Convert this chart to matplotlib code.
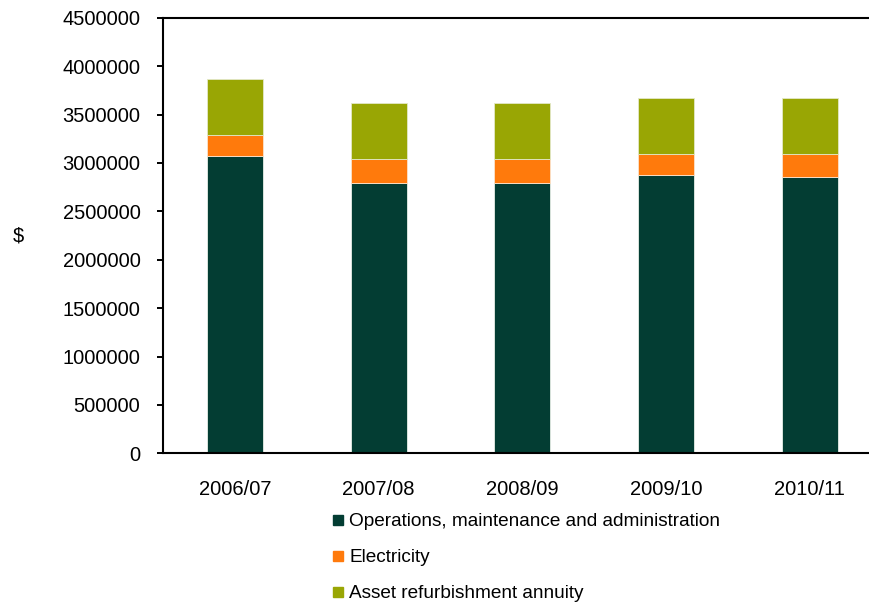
import matplotlib.pyplot as plt
import matplotlib
from matplotlib.lines import Line2D

matplotlib.rcParams['font.family'] = ['Liberation Sans', 'DejaVu Sans']

years = ['2006/07', '2007/08', '2008/09', '2009/10', '2010/11']
operations = [3068000, 2795000, 2795000, 2875000, 2854000]
electricity = [217000, 242000, 242000, 214000, 235000]
refurbishment = [582000, 579000, 579000, 585000, 585000]
series_names = ['Operations, maintenance and administration',
                'Electricity', 'Asset refurbishment annuity']
colors = ['#033D33', '#FF7A0C', '#99A604']

fig = plt.figure(figsize=(8.7, 6.02), dpi=100)
ax = fig.add_axes([0.1874, 0.2470, 0.8259, 0.7236])

x = list(range(len(years)))
bottom2 = [a + b for a, b in zip(operations, electricity)]
w = 0.39
ax.bar(x, operations, width=w, color=colors[0], edgecolor='#e8efe8', linewidth=0.6)
ax.bar(x, electricity, width=w, bottom=operations, color=colors[1],
       edgecolor='#fbe3cc', linewidth=0.6)
ax.bar(x, refurbishment, width=w, bottom=bottom2, color=colors[2],
       edgecolor='#e3e8c8', linewidth=0.6)

ax.set_xlim(-0.5, 4.5)
ax.set_ylim(0, 4500000)
ax.set_yticks(range(0, 4500001, 500000))
ax.set_yticklabels([str(v) for v in range(0, 4500001, 500000)])
ax.set_xticks(x)
ax.set_xticklabels(years)
ax.tick_params(axis='y', direction='out', length=4.3, width=1.4, pad=12,
               labelsize=14.5)
ax.tick_params(axis='x', length=0, pad=19, labelsize=14.5)
for s in ax.spines.values():
    s.set_linewidth(1.5)

fig.text(18 / 870, 1 - 236 / 602, '$', fontsize=14.5, ha='center', va='center')

handles = [Line2D([], [], marker='s', linestyle='none', markersize=7,
                  markerfacecolor=c, markeredgecolor=c) for c in colors]
fig.legend(handles, series_names, loc='upper left',
           bbox_to_anchor=(332 / 870, 1 - 513 / 602), frameon=False,
           fontsize=13.7, handlelength=0.6, handletextpad=0.3,
           labelspacing=0.98, borderaxespad=0, borderpad=0)

plt.savefig('out.png', dpi=100)
